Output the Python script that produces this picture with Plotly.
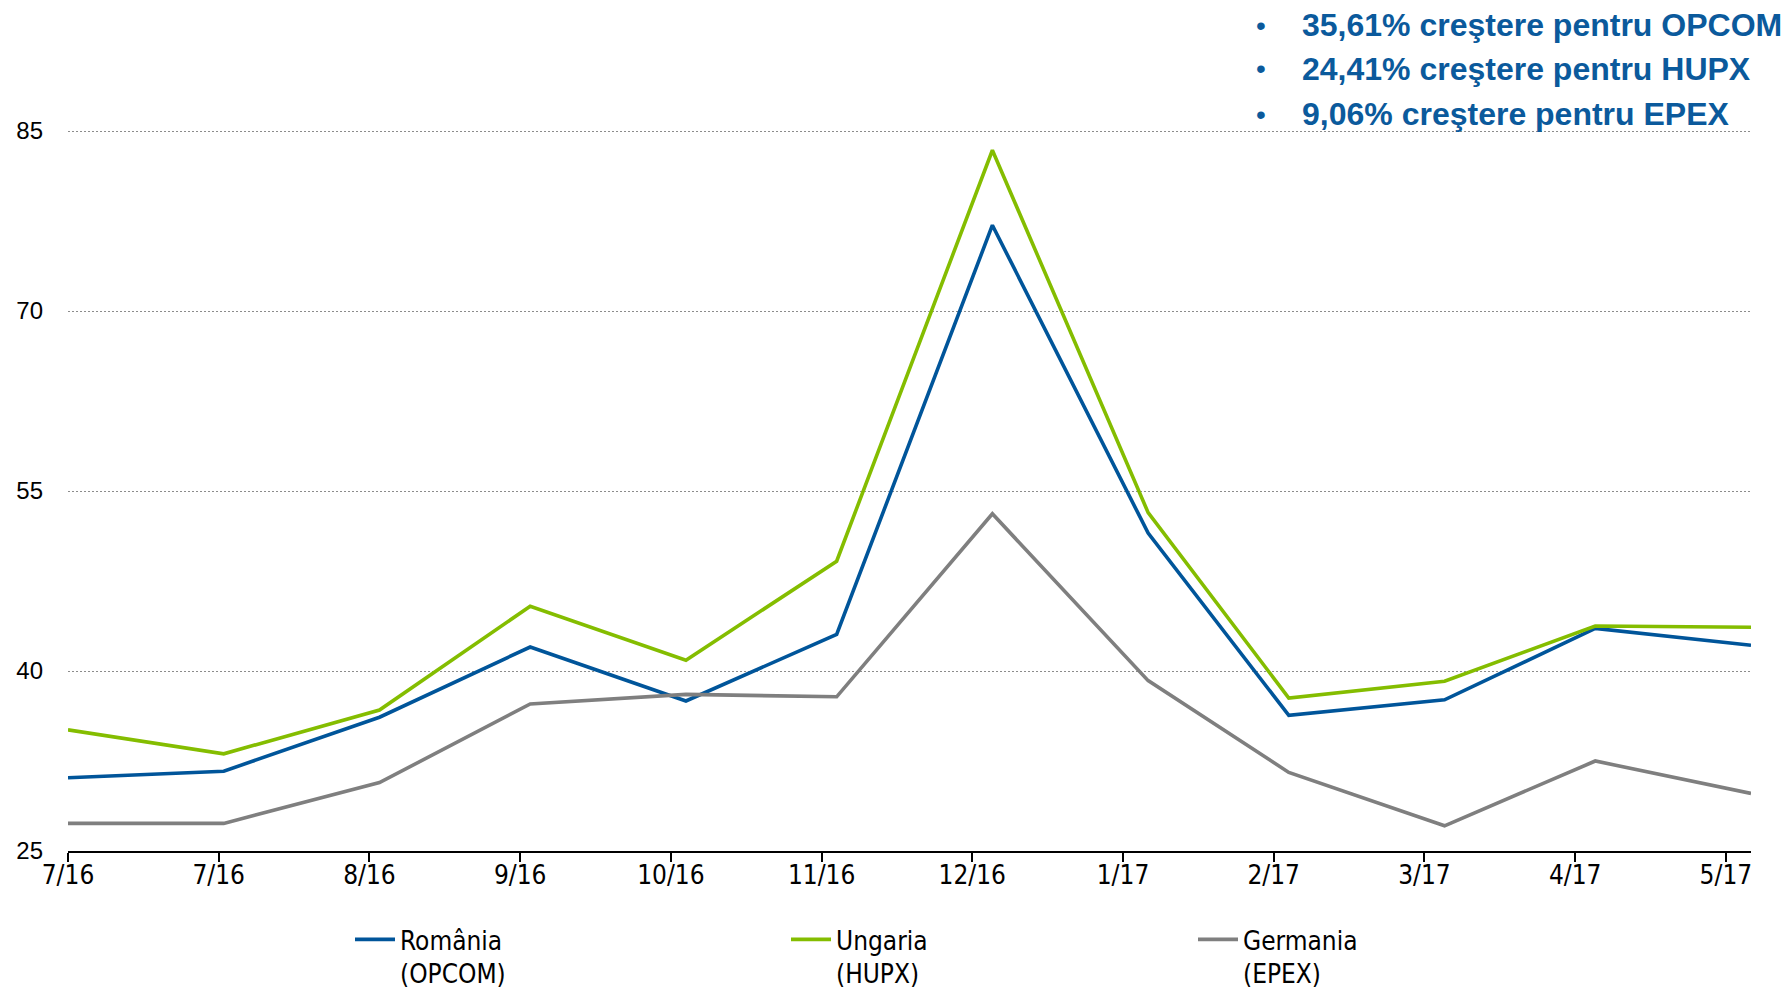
import plotly.graph_objects as go

# ---- data ----
months = ["2016-07-01", "2016-08-01", "2016-09-01", "2016-10-01", "2016-11-01", "2016-12-01",
          "2017-01-01", "2017-02-01", "2017-03-01", "2017-04-01", "2017-05-01", "2017-06-01"]
romania_opcom = [31.1, 31.65, 36.15, 42.0, 37.5, 43.05, 77.15, 51.5, 36.3, 37.6, 43.55, 42.15]
ungaria_hupx = [35.1, 33.1, 36.75, 45.4, 40.9, 49.15, 83.4, 53.2, 37.75, 39.15, 43.75, 43.65]
germania_epex = [27.3, 27.3, 30.7, 37.25, 38.05, 37.85, 53.1, 39.2, 31.55, 27.1, 32.5, 29.8]
series_names = ["România<br>(OPCOM)", "Ungaria<br>(HUPX)", "Germania<br>(EPEX)"]
y_ticks = [25, 40, 55, 70, 85]
notes = ["35,61% creştere pentru OPCOM", "24,41% creştere pentru HUPX", "9,06% creştere pentru EPEX"]

colors = ["#00559a", "#84bd00", "#7f7f7f"]
NARROW = "Liberation Sans Narrow, Arial Narrow, DejaVu Sans Condensed, sans-serif"

W, H = 1783, 988
L, R, T, B = 68, 32, 129, 137
pw, ph = W - L - R, H - T - B


def px(x):
    return (x - L) / pw


def py(y):
    return (H - B - y) / ph


legend_ids = ["legend", "legend2", "legend3"]
legend_x = [350, 786, 1193]

fig = go.Figure()
for name, vals, col, lid in zip(series_names, [romania_opcom, ungaria_hupx, germania_epex], colors, legend_ids):
    fig.add_trace(go.Scatter(x=months, y=vals, mode="lines", name=name, legend=lid,
                             line=dict(color=col, width=3.6)))

for i, txt in enumerate(notes):
    ycen = [25, 69, 114][i]
    fig.add_annotation(x=px(1254), y=py(ycen), xref="paper", yref="paper", text="•",
                       showarrow=False, xanchor="left", yanchor="middle",
                       font=dict(family="Liberation Sans, Arial, sans-serif", size=28, color="#0b5a9c"))
    fig.add_annotation(x=px(1300), y=py(ycen), xref="paper", yref="paper", text="<b>" + txt + "</b>",
                       showarrow=False, xanchor="left", yanchor="middle",
                       font=dict(family="Liberation Sans, Arial, sans-serif", size=32, color="#0b5a9c"))

legend_common = dict(yanchor="top", xanchor="left", valign="top", itemwidth=40,
                     bgcolor="rgba(0,0,0,0)",
                     font=dict(family=NARROW, size=26, color="black"))

fig.update_layout(
    width=W, height=H,
    margin=dict(l=L, r=R, t=T, b=B, autoexpand=False),
    paper_bgcolor="white", plot_bgcolor="white",
    showlegend=True,
    legend=dict(x=px(legend_x[0]), y=py(916), **legend_common),
    legend2=dict(x=px(legend_x[1]), y=py(916), **legend_common),
    legend3=dict(x=px(legend_x[2]), y=py(916), **legend_common),
    xaxis=dict(type="date", range=["2016-07-01", "2017-06-01"],
               tick0="2016-07-01", dtick=30 * 86400000, tickformat="%-m/%y",
               showgrid=False, showline=True, linecolor="black", linewidth=2,
               ticks="outside", ticklen=9, tickwidth=1.5, tickcolor="black",
               ticklabelstandoff=-9,
               tickfont=dict(family=NARROW, size=26, color="black"), zeroline=False),
    yaxis=dict(range=[25, 85.17], tickvals=y_ticks, showgrid=True, gridcolor="#8c8c8c",
               gridwidth=1, griddash="2px,2px", showline=False, zeroline=False,
               ticks="", ticklabelstandoff=24,
               tickfont=dict(family="Liberation Sans, Arial, sans-serif", size=24, color="black")),
)

fig.write_html("out.html")
